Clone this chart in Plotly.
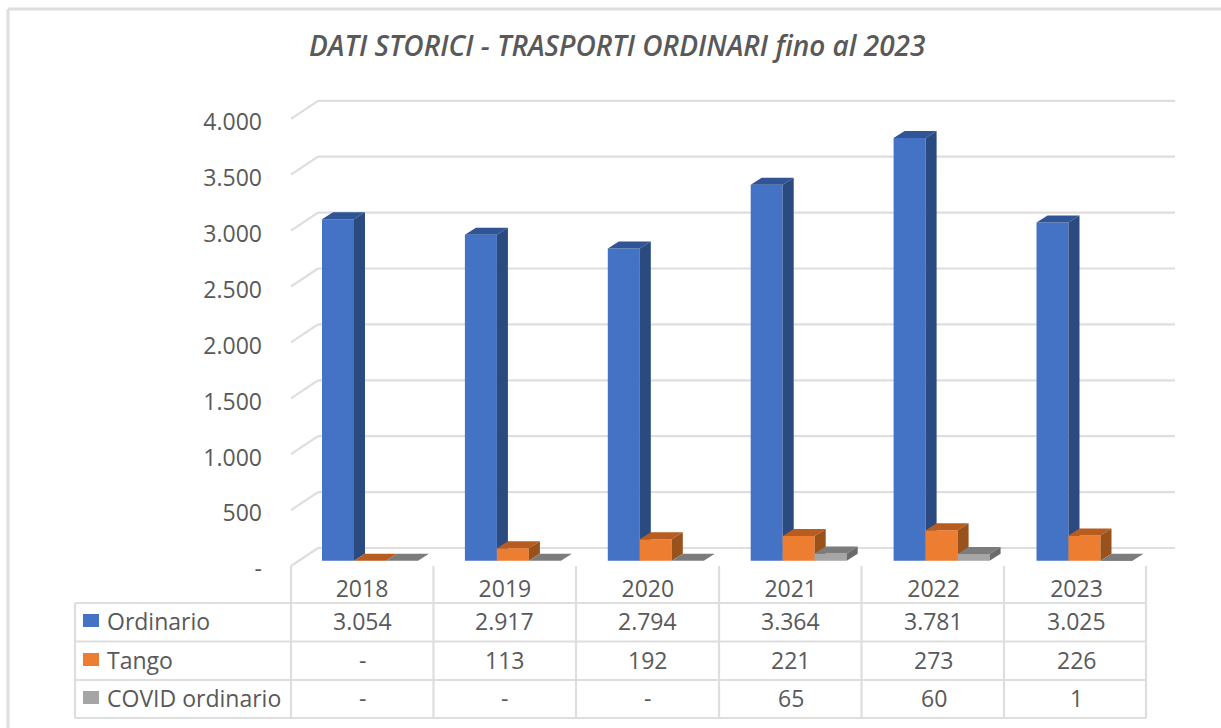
import plotly.graph_objects as go

years = ["2018", "2019", "2020", "2021", "2022", "2023"]
ordinario = [3054, 2917, 2794, 3364, 3781, 3025]
tango = [0, 113, 192, 221, 273, 226]
covid = [0, 0, 0, 65, 60, 1]
y_ticks = [0, 500, 1000, 1500, 2000, 2500, 3000, 3500, 4000]
y_tick_text = ["-", "500", "1.000", "1.500", "2.000", "2.500", "3.000", "3.500", "4.000"]
title = "DATI STORICI - TRASPORTI ORDINARI fino al 2023"

W, H = 1221, 728
FONT = "Open Sans"
TXT = "#595959"
GRID = "#DEDEDE"
X0_PX, COL_PX = 362.0, 142.9      # pixel centre of first category, pixels per category
Y0_PX, PX_PER_UNIT = 560.8, 0.1118  # pixel of value 0 at bar front, pixels per value unit

def dx(px):
    return px / COL_PX
def dv(px):
    return px / PX_PER_UNIT
def xpx(px):
    return (px - X0_PX) / COL_PX
def vpx(px):
    return (Y0_PX - px) / PX_PER_UNIT
def pfx(px):
    return px / W
def pfy(px):
    return 1 - px / H

x_range = [xpx(0), xpx(W)]
y_range = [vpx(H), vpx(0)]
cats = list(range(len(years)))

series = [
    ("Ordinario", ordinario, "#4472C4", "#2F5597", "#2A4A80", 322, ""),
    ("Tango", tango, "#ED7D31", "#B85C20", "#9A521C", 354, "2"),
    ("COVID ordinario", covid, "#A5A5A5", "#7C7C7C", "#6B6B6B", 386, "3"),
]
BAR_W, DEP_X, DEP_Y = 32, 11, 7

fig = go.Figure()
for name, vals, front, top, side, left, ax in series:
    xa, ya = "x" + ax, "y" + ax
    off = xpx(left)
    fig.add_trace(go.Bar(x=cats, y=vals, name=name, width=dx(BAR_W), offset=off,
                         marker=dict(color=front, line=dict(width=0)),
                         xaxis=xa, yaxis=ya, showlegend=False))
    tx, ty, sx, sy = [], [], [], []
    for i, v in zip(cats, vals):
        a, b = i + off, i + off + dx(BAR_W)
        tx += [a, b, b + dx(DEP_X), a + dx(DEP_X), a, None]
        ty += [v, v, v + dv(DEP_Y), v + dv(DEP_Y), v, None]
        sx += [b, b + dx(DEP_X), b + dx(DEP_X), b, b, None]
        sy += [0, dv(DEP_Y), v + dv(DEP_Y), v, 0, None]
    for px_, py_, col in ((tx, ty, top), (sx, sy, side)):
        fig.add_trace(go.Scatter(x=px_, y=py_, mode="lines", fill="toself", fillcolor=col,
                                 line=dict(width=0, color=col), xaxis=xa, yaxis=ya,
                                 showlegend=False, hoverinfo="skip"))

shapes = []
def line(x0, y0, x1, y1, w=2.2):
    shapes.append(dict(type="line", xref="paper", yref="paper", x0=pfx(x0), y0=pfy(y0),
                       x1=pfx(x1), y1=pfy(y1), line=dict(color=GRID, width=w), layer="below"))

# walls: gridlines follow the value axis
for t in y_ticks:
    xl, xb, xr = xpx(291), xpx(318), xpx(1175)
    f, b = t - dv(5.2), t + dv(12.8)
    for (a0, b0, a1, b1) in ((xl, f, xb, b), (xb, b, xr, b)):
        shapes.append(dict(type="line", xref="x", yref="y", x0=a0, y0=b0, x1=a1, y1=b1,
                           line=dict(color=GRID, width=2.2), layer="below"))

# outer frame
line(8, 9, W, 9, 3)
line(8, 9, 8, H, 3)
# data table grid
col_edges = [291, 433.5, 576, 719, 861.5, 1004, 1146]
row_edges = [603, 641.5, 680, 718]
for x in col_edges:
    line(x, 566, x, 718)
line(75, 603, 75, 718)
for y in row_edges:
    line(75, y, 1146, y)

annotations = [dict(text=title, xref="paper", yref="paper", x=pfx(617), y=pfy(45),
                    showarrow=False, xanchor="center", yanchor="middle",
                    font=dict(family=FONT, size=28, color=TXT, style="italic", weight=600))]
row_y = [621, 660, 698]
for (name, vals, front, *_), y in zip(series, row_y):
    shapes.append(dict(type="rect", xref="paper", yref="paper", x0=pfx(83), x1=pfx(99),
                       y0=pfy(y - 7), y1=pfy(y + 6), fillcolor=front, line=dict(width=0)))
    annotations.append(dict(text=name, xref="paper", yref="paper", x=pfx(105), y=pfy(y),
                            showarrow=False, xanchor="left", yanchor="middle",
                            font=dict(family=FONT, size=23, color=TXT)))
    for i, v in zip(cats, vals):
        label = "-" if v == 0 else f"{v:,}".replace(",", ".")
        annotations.append(dict(text=label, xref="x", yref="paper", x=i, y=pfy(y),
                                showarrow=False, xanchor="center", yanchor="middle",
                                font=dict(family=FONT, size=23, color=TXT)))

hidden = dict(visible=False, fixedrange=True)
fig.update_layout(
    width=W, height=H, margin=dict(l=0, r=0, t=0, b=0, pad=0),
    paper_bgcolor="white", plot_bgcolor="white", barmode="overlay", showlegend=False,
    shapes=shapes, annotations=annotations,
    xaxis=dict(domain=[0, 1], range=x_range, tickmode="array", tickvals=cats, ticktext=years,
               anchor="free", position=pfy(566), showgrid=False, zeroline=False, showline=False,
               ticks="outside", ticklen=2, tickcolor="rgba(0,0,0,0)",
               tickfont=dict(family=FONT, size=23, color=TXT)),
    yaxis=dict(domain=[0, 1], range=y_range, tickmode="array",
               tickvals=[t - dv(8.5) for t in y_ticks], ticktext=y_tick_text,
               anchor="free", position=pfx(262), showgrid=False, zeroline=False, showline=False,
               ticks="", tickfont=dict(family=FONT, size=23, color=TXT)),
    xaxis2=dict(overlaying="x", range=x_range, **hidden),
    yaxis2=dict(overlaying="y", range=y_range, **hidden),
    xaxis3=dict(overlaying="x", range=x_range, **hidden),
    yaxis3=dict(overlaying="y", range=y_range, **hidden),
)
fig.write_html("out.html", config={"displayModeBar": False},
               post_script="document.body.style.margin='0';")
